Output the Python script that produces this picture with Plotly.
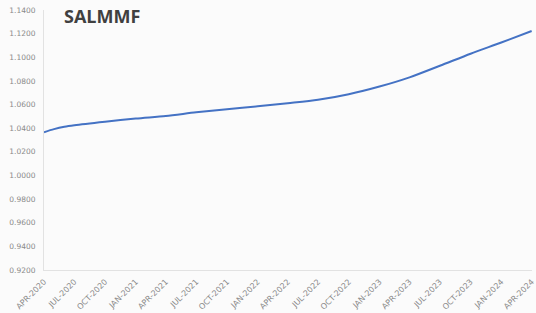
import plotly.graph_objects as go

# Read-off data (NAV per unit)
dates = ["2020-04-01", "2020-05-01", "2020-06-01", "2020-07-01", "2020-10-01",
         "2021-01-01", "2021-04-01", "2021-07-01", "2021-10-01",
         "2022-01-01", "2022-04-01", "2022-07-01", "2022-10-01",
         "2023-01-01", "2023-04-01", "2023-07-01", "2023-10-01",
         "2024-01-01", "2024-04-01"]
values = [1.0366, 1.0392, 1.0412, 1.0425, 1.0455,
          1.0482, 1.0503, 1.0534, 1.0560,
          1.0585, 1.0611, 1.0640, 1.0687,
          1.0752, 1.0830, 1.0928, 1.1030,
          1.1125, 1.1222]

tick_dates = ["2020-04-01", "2020-07-01", "2020-10-01", "2021-01-01", "2021-04-01",
              "2021-07-01", "2021-10-01", "2022-01-01", "2022-04-01", "2022-07-01",
              "2022-10-01", "2023-01-01", "2023-04-01", "2023-07-01", "2023-10-01",
              "2024-01-01", "2024-04-01"]
tick_labels = ["APR-2020", "JUL-2020", "OCT-2020", "JAN-2021", "APR-2021",
               "JUL-2021", "OCT-2021", "JAN-2022", "APR-2022", "JUL-2022",
               "OCT-2022", "JAN-2023", "APR-2023", "JUL-2023", "OCT-2023",
               "JAN-2024", "APR-2024"]
y_ticks = [0.92, 0.94, 0.96, 0.98, 1.00, 1.02, 1.04, 1.06, 1.08, 1.10, 1.12, 1.14]
y_labels = ["0.9200", "0.9400", "0.9600", "0.9800", "1.0000", "1.0200",
            "1.0400", "1.0600", "1.0800", "1.1000", "1.1200", "1.1400"]
title = "SALMMF"

fig = go.Figure()
fig.add_trace(go.Scatter(x=dates, y=values, mode="lines",
                         line=dict(color="#4472C4", width=2, shape="spline", smoothing=0.8),
                         hoverinfo="skip", cliponaxis=False))

fig.update_layout(
    width=536, height=313,
    margin=dict(l=44, r=4, t=10, b=43, autoexpand=False),
    paper_bgcolor="#fbfbfb", plot_bgcolor="#fbfbfb",
    showlegend=False,
    xaxis=dict(range=["2020-04-01", "2024-04-02"], tickmode="array",
               tickvals=tick_dates, ticktext=tick_labels, tickangle=-45,
               tickfont=dict(family="DejaVu Sans", size=8, color="#8a8a8a"),
               ticklabeloverflow="allow",
               showgrid=False, zeroline=False,
               showline=True, linecolor="#e2e2e2", linewidth=1,
               ticks="outside", ticklen=3, tickcolor="rgba(0,0,0,0)",
               automargin=False),
    yaxis=dict(range=[0.92, 1.14], tickmode="array", tickvals=y_ticks,
               ticktext=y_labels,
               tickfont=dict(family="DejaVu Sans", size=7.5, color="#8a8a8a"),
               showgrid=False,
               zeroline=False, showline=True, linecolor="#e2e2e2", linewidth=1,
               ticks="", ticklabelstandoff=6, automargin=False),
    annotations=[dict(text="<b>" + title + "</b>", xref="paper", yref="paper",
                      x=0.036, y=0.978, xanchor="left", yanchor="middle",
                      showarrow=False,
                      font=dict(family="Open Sans", size=18, color="#404040"))],
)

fig.write_html("out.html", config={"displayModeBar": False},
               post_script="document.body.style.margin='0';document.body.style.padding='0';document.body.style.overflow='hidden';")
